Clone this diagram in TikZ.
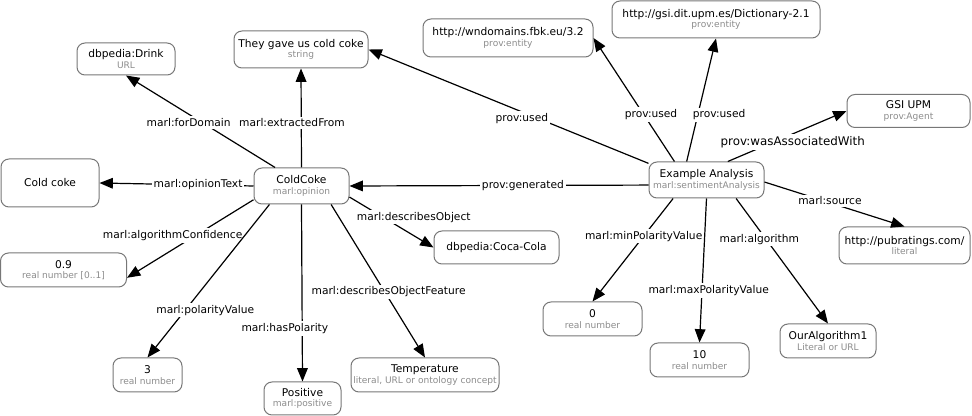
\documentclass[tikz,border=0pt]{standalone}
\usepackage{fontspec}
\setmainfont{DejaVu Sans}
\usepackage{xcolor}
\usepackage{tikz}
\usetikzlibrary{arrows.meta}

\definecolor{boxgrey}{HTML}{777777}
\definecolor{typegrey}{HTML}{8C8C8C}
\newcommand{\ntype}[1]{{\fontsize{6.8}{7.8}\selectfont\color{typegrey}#1}}

\begin{document}
\begin{tikzpicture}[x=0.75pt,y=-0.75pt,
    box/.style={draw=boxgrey, line width=0.75pt, rounded corners=6pt, align=center, inner sep=0pt, font=\fontsize{8}{7.8}\selectfont},
    sz/.style 2 args={minimum width=#1*0.75pt, minimum height=#2*0.75pt},
    arr/.style={-{Triangle[length=10pt,width=8pt]}, line width=0.9pt},
    lbl/.style={fill=white, inner sep=1.5pt, font=\fontsize{8}{9}\selectfont}]
    \useasboundingbox (0,0) rectangle (972,416);

    \node[box,sz={95}{36}] (cold) at (301.5,186) {ColdCoke\\\ntype{marl:opinion}};
    \node[box,sz={98}{32}] (drink) at (126,59) {dbpedia:Drink\\\ntype{URL}};
    \node[box,sz={134}{37}] (they) at (301,49.5) {They gave us cold coke\\\ntype{string}};
    \node[box,sz={98}{48}] (coldtext) at (50,183) {Cold coke};
    \node[box,sz={126}{34}] (conf) at (63.5,270) {0.9\\\ntype{real number [0..1]}};
    \node[box,sz={69}{34}] (three) at (147.5,375) {3\\\ntype{real number}};
    \node[box,sz={77}{33}] (pos) at (302.5,398.5) {Positive\\\ntype{marl:positive}};
    \node[box,sz={148}{34}] (temp) at (425,375) {Temperature\\\ntype{literal, URL or ontology concept}};
    \node[box,sz={125}{33}] (coke) at (496.5,247.5) {dbpedia:Coca-Cola};

    \node[box,sz={115}{36}] (ex) at (706.5,180) {Example Analysis\\\ntype{marl:sentimentAnalysis}};
    \node[box,sz={170}{38}] (wnd) at (508,38) {http://wndomains.fbk.eu/3.2\\\ntype{prov:entity}};
    \node[box,sz={208}{37}] (dict) at (716,19.5) {http://gsi.dit.upm.es/Dictionary-2.1\\\ntype{prov:entity}};
    \node[box,sz={123}{33}] (gsi) at (908.5,111) {GSI UPM\\\ntype{prov:Agent}};
    \node[box,sz={131}{37}] (pub) at (904.5,245.5) {http://pubratings.com/\\\ntype{literal}};
    \node[box,sz={99}{34}] (zero) at (592.5,319) {0\\\ntype{real number}};
    \node[box,sz={99}{34}] (ten) at (699.5,360) {10\\\ntype{real number}};
    \node[box,sz={96}{34}] (algo) at (828,341) {OurAlgorithm1\\\ntype{Literal or URL}};

    \draw[arr] (cold.145) -- node[lbl,pos=0.49,xshift=-10pt]{marl:forDomain} (drink.south);
    \draw[arr] (cold.north) -- node[lbl,pos=0.45,xshift=-7pt]{marl:extractedFrom} (they.south);
    \draw[arr] (cold.west) -- node[lbl,pos=0.36]{marl:opinionText} (coldtext.east);
    \draw[arr] (cold.196) -- node[lbl,pos=0.46,xshift=-17pt]{marl:algorithmConfidence} (conf.353);
    \draw[arr] (cold.210) -- node[lbl,pos=0.69,xshift=15pt]{marl:polarityValue} (three.north);
    \draw[arr] (cold.south) -- node[lbl,pos=0.70,xshift=-13pt]{marl:hasPolarity} (pos.north);
    \draw[arr] (cold.328) -- node[lbl,pos=0.57,xshift=3pt]{marl:describesObjectFeature} (temp.north);
    \draw[arr] (cold.347) -- node[lbl,pos=0.40,xshift=23pt]{marl:describesObject} (coke.west);

    \draw[arr] (ex.185) -- node[lbl,pos=0.42]{prov:generated} (cold.east);
    \draw[arr] (ex.164) -- node[lbl,pos=0.395,xshift=-12pt]{prov:used} (they.east);
    \draw[arr] (ex.150) -- node[lbl,pos=0.38,xshift=5.5pt]{prov:used} (wnd.east);
    \draw[arr] (ex.137) -- node[lbl,pos=0.38,xshift=16pt]{prov:used} (dict.south);
    \draw[arr] (ex.41) -- node[lbl,pos=0.39,xshift=14pt,font=\fontsize{8.9}{10}\selectfont]{prov:wasAssociatedWith} (gsi.west);
    \draw[arr] (ex.358) -- node[lbl,pos=0.42,xshift=5pt]{marl:source} (pub.north);
    \draw[arr] (ex.209) -- node[lbl,pos=0.365]{marl:minPolarityValue} (zero.north);
    \draw[arr] (ex.south) -- node[lbl,pos=0.64,xshift=5pt]{marl:maxPolarityValue} (ten.north);
    \draw[arr] (ex.328) -- node[lbl,pos=0.325,xshift=-5pt]{marl:algorithm} (algo.north);
\end{tikzpicture}
\end{document}
